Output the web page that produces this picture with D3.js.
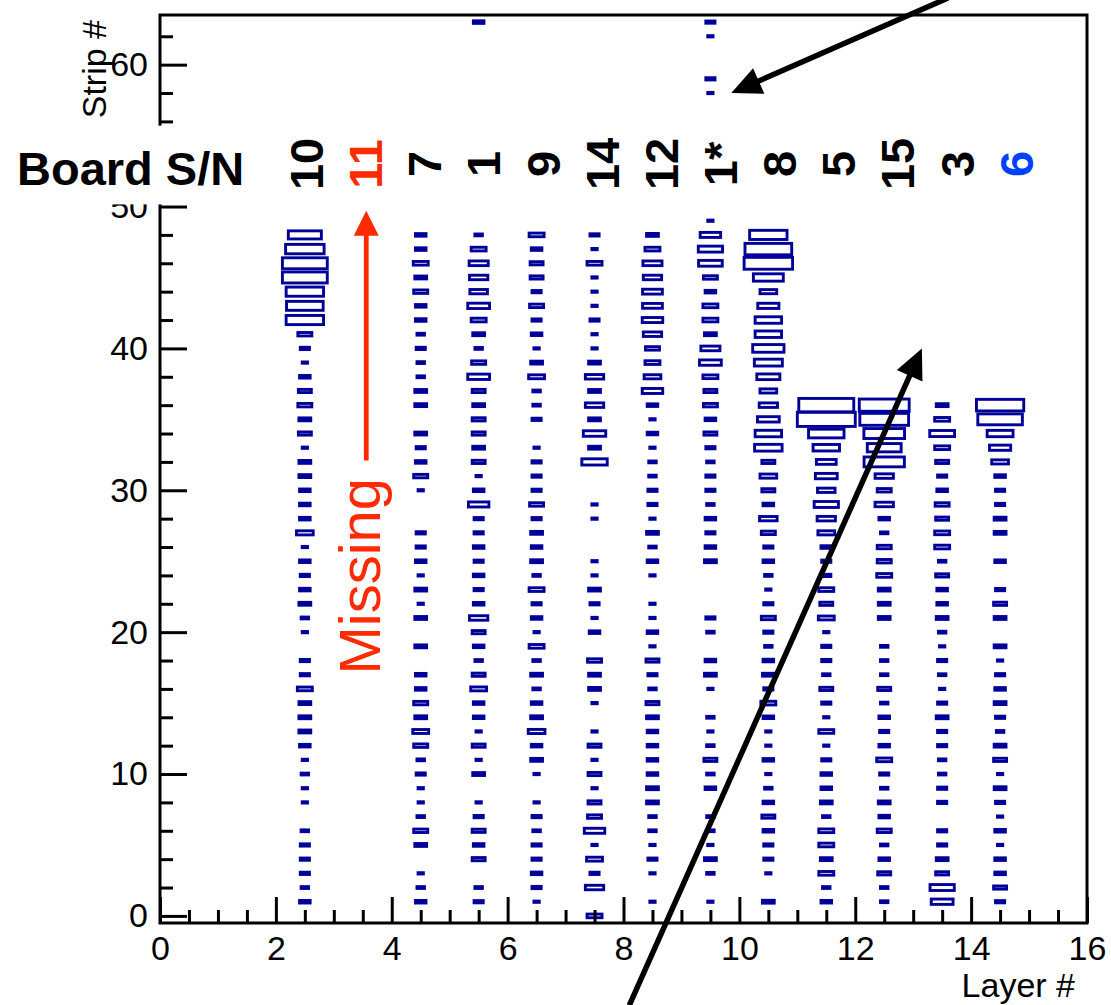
<!DOCTYPE html>
<html><head><meta charset="utf-8">
<script src="https://cdn.jsdelivr.net/npm/d3@7"></script>
<style>
body{margin:0;background:#fff}
svg{display:block}
text{font-family:"Liberation Sans",Arial,Helvetica,sans-serif}
</style>
</head><body>
<svg id="chart" width="1111" height="1005"></svg>
<script>
// ---------------- data ----------------
const layers = [2,3,4,5,6,7,8,9,10,11,12,13,14];
const boardSN = ["10","11","7","1","9","14","12","1*","8","5","15","3","6"];
const xTicksMajor = [0,2,4,6,8,10,12,14,16];
const yTicksMajor = [0,10,20,30,40,50,60];
// hit counts per strip (index = strip #), one array per layer
const hitsL2  = [0,4,2,3,3,3,2,0,1,1, 2,1,4,5,5,5,8,3,3,0, 1,2,5,4,3,4,1,10,4,4, 4,5,5,1,6,5,7,6,4,1, 3,7,50,48,50,72,72,53,39,0];
const hitsL3  = [];
const hitsL4  = [0,4,2,1,0,5,7,2,1,1, 3,2,7,9,5,7,4,4,0,5, 0,5,1,5,1,4,3,3,0,0, 1,7,4,3,5,0,5,5,2,2, 3,2,4,4,7,5,8,4,4,0];
const hitsL5  = [0,3,2,0,6,4,6,3,1,0, 5,1,6,1,4,4,9,6,2,4, 6,12,4,3,4,3,4,3,3,15, 4,1,6,5,6,6,5,6,17,7, 2,5,8,17,11,12,13,8,2,0, 0,0,0,0,0,0,0,0,0,0, 0,0,0,4];
const hitsL6  = [0,1,3,4,3,3,2,3,1,0, 1,5,4,10,5,4,2,5,2,8, 1,4,3,8,2,5,4,5,3,7, 3,3,3,1,0,3,2,2,9,5, 1,4,3,7,3,6,6,4,8,0];
const hitsL7  = [8,0,12,3,9,1,15,7,6,1, 6,1,6,1,0,1,5,5,7,0, 4,1,3,5,1,1,0,0,1,1, 0,0,23,5,18,5,12,5,12,5, 1,1,3,1,1,1,8,1,3,0];
const hitsL8  = [0,1,0,1,3,1,2,2,5,5, 4,4,4,4,5,6,2,3,6,1, 4,1,1,0,1,4,2,5,1,3, 3,2,2,1,4,1,4,15,10,8, 7,12,15,14,14,12,13,8,5,0];
const hitsL9  = [0,1,0,2,5,1,2,2,0,4, 2,6,2,1,2,0,1,5,4,0, 2,3,0,0,0,5,4,3,4,2, 3,3,2,3,6,4,7,6,8,17, 13,5,8,8,4,7,20,21,15,1, 0,0,0,0,0,0,0,0,1,3, 0,0,1,3];
const hitsL10 = [0,5,0,1,3,3,4,6,4,2, 1,4,1,1,4,8,3,5,4,2, 3,7,3,1,2,4,3,7,11,4, 6,10,6,27,25,17,12,10,19,28, 35,25,25,16,10,32,84,78,50,0];
const hitsL11 = [0,4,2,8,5,8,8,2,5,4, 4,3,1,8,1,3,6,2,3,3, 1,9,6,8,3,3,4,10,12,21, 11,17,14,25,45,120,108];
const hitsL12 = [0,2,2,6,4,2,7,4,5,2, 3,8,4,3,4,2,6,2,2,2, 0,5,5,5,8,7,7,2,4,12, 7,12,58,41,59,85,89];
const hitsL13 = [0,17,21,6,5,3,3,0,3,3, 2,2,3,3,5,3,1,2,3,1, 2,5,4,4,6,2,8,8,6,7, 4,3,6,8,22,8,5];
const hitsL14 = [0,3,6,4,4,1,4,1,3,5, 1,6,5,2,3,5,4,3,1,5, 0,5,6,3,0,4,0,5,5,3, 3,4,10,16,24,71,80];
const hitsByLayer = [hitsL2,hitsL3,hitsL4,hitsL5,hitsL6,hitsL7,hitsL8,hitsL9,hitsL10,hitsL11,hitsL12,hitsL13,hitsL14];
const missingLayer = 3;
// annotation arrows in data coordinates: [x1, y1, x2(tip), y2(tip)]
const arrowTop = [13.6, 64.7, 9.86, 58.0];
const arrowBottom = [8.1, -6.3, 13.15, 40.0];
const arrowMissing = [3.56, 32.1, 3.56, 49.7];

// ---------------- drawing ----------------
const svg = d3.select("#chart");
const x = d3.scaleLinear().domain([0,16]).range([160,1087]);
const y = d3.scaleLinear().domain([-0.5,63.5]).range([923,15]);
const binW = x(1)-x(0), binH = y(0)-y(1);
const cmax = d3.max(hitsByLayer.flat());
const BLUE = "#000099", RED = "#ff2a00", LBLUE = "#0040ff";

// boxes
const gB = svg.append("g");
layers.forEach((L,i)=>{
  hitsByLayer[i].forEach((c,s)=>{
    if(!c) return;
    const f = Math.sqrt(c/cmax);
    const w = binW*f, h = binH*f;
    gB.append("rect")
      .attr("x", x(L+0.5)-w/2).attr("y", y(s)-h/2)
      .attr("width", w).attr("height", h)
      .attr("fill","none").attr("stroke",BLUE).attr("stroke-width",2.9);
  });
});

// axes
const fontAx = 34;
function styleAxis(g){
  g.select(".domain").remove();
  g.selectAll(".tick line").attr("stroke","#000").attr("stroke-width",3);
  g.selectAll("text").attr("font-size",fontAx).attr("fill","#000")
   .attr("font-family",'"Liberation Sans",Arial,sans-serif');
}
const yMinor = d3.range(0,64,2).filter(v=>v%10!==0);
svg.append("g").attr("transform",`translate(${x(0)},0)`)
  .call(d3.axisLeft(y).tickValues(yTicksMajor).tickSizeInner(-27).tickSizeOuter(0).tickPadding(12).tickFormat(d3.format("d")))
  .call(styleAxis);
svg.append("g").attr("transform",`translate(${x(0)},0)`)
  .call(d3.axisLeft(y).tickValues(yMinor).tickSizeInner(-13).tickSizeOuter(0).tickFormat(""))
  .call(styleAxis);
const xMinor = d3.range(0,16.01,0.5).filter(v=>v%2!==0);
svg.append("g").attr("transform",`translate(0,${y(-0.5)})`)
  .call(d3.axisBottom(x).tickValues(xTicksMajor).tickSizeInner(-26).tickSizeOuter(0).tickPadding(13).tickFormat(d3.format("d")))
  .call(styleAxis);
svg.append("g").attr("transform",`translate(0,${y(-0.5)})`)
  .call(d3.axisBottom(x).tickValues(xMinor).tickSizeInner(-13).tickSizeOuter(0).tickFormat(""))
  .call(styleAxis);

// frame
const x0 = x(0), x1 = x(16), yb = y(-0.5), yt = y(63.5);
svg.append("path")
  .attr("d",`M${x0},${yb}V${yt}H${x1}V${yb}H${x0}Z`)
  .attr("fill","none").attr("stroke","#000").attr("stroke-width",3);

// white band (board label strip)
const bandTop = y(55.7), bandBot = y(50.15);
svg.append("rect").attr("x",0).attr("y",bandTop).attr("width",x1-2.5).attr("height",bandBot-bandTop).attr("fill","#fff");

// Board S/N labels
svg.append("text").attr("x",17).attr("y",185).attr("font-size",47).attr("font-weight","bold").text("Board S/N");
const labelX = L => x(L + 0.52 + 0.021*(L-2));
boardSN.forEach((t,i)=>{
  const L = layers[i];
  svg.append("text")
    .attr("transform",`translate(${labelX(L)},${y(53)}) rotate(-90)`)
    .attr("text-anchor","middle").attr("dy","0.36em")
    .attr("font-size",47).attr("font-weight","bold")
    .attr("fill", L===missingLayer ? RED : (i===boardSN.length-1 ? LBLUE : "#000"))
    .text(t);
});

// axis titles
svg.append("text").attr("transform",`translate(106,${yt+5}) rotate(-90)`)
  .attr("text-anchor","end").attr("font-size",fontAx).text("Strip #");
svg.append("text").attr("x",1075).attr("y",997)
  .attr("text-anchor","end").attr("font-size",fontAx).text("Layer #");

// arrows
function arrow(a, color, lw, headLen, headHalf){
  const X1=x(a[0]), Y1=y(a[1]), X2=x(a[2]), Y2=y(a[3]);
  const dx=X2-X1, dy=Y2-Y1, L=Math.hypot(dx,dy), ux=dx/L, uy=dy/L;
  const bx=X2-ux*headLen, by=Y2-uy*headLen;
  svg.append("line").attr("x1",X1).attr("y1",Y1).attr("x2",bx+ux*2).attr("y2",by+uy*2)
    .attr("stroke",color).attr("stroke-width",lw);
  svg.append("path")
    .attr("d",`M${X2},${Y2}L${bx-uy*headHalf},${by+ux*headHalf}L${bx+uy*headHalf},${by-ux*headHalf}Z`)
    .attr("fill",color);
}
arrow(arrowTop,"#000",5.5,30,14);
arrow(arrowBottom,"#000",5.5,30,14);
arrow(arrowMissing,RED,4.8,25,12.5);

// "Missing" text
svg.append("text")
  .attr("transform",`translate(${x(arrowMissing[0])+14},${y(arrowMissing[1])+214}) rotate(-90)`)
  .attr("font-size",58).attr("fill",RED).text("Missing");
</script>
</body></html>
